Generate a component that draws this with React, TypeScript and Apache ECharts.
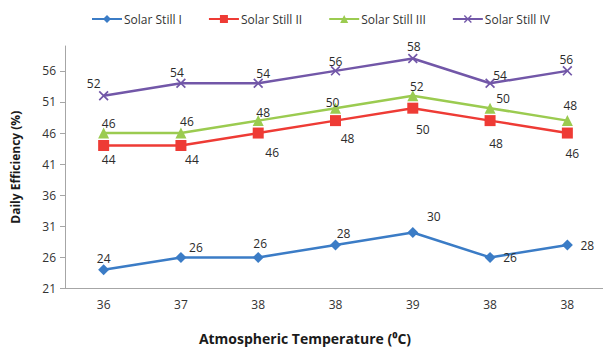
import React, { useEffect, useRef } from "react";
import * as echarts from "echarts";

// Atmospheric temperature for each observation (°C)
const temperatures = ["36", "37", "38", "38", "39", "38", "38"];

// Daily efficiency (%) of each solar still
const stillI = [24, 26, 26, 28, 30, 26, 28];
const stillII = [44, 44, 46, 48, 50, 48, 46];
const stillIII = [46, 46, 48, 50, 52, 50, 48];
const stillIV = [52, 54, 54, 56, 58, 54, 56];

const seriesNames = ["Solar Still I", "Solar Still II", "Solar Still III", "Solar Still IV"];

// Label placement (pixel offsets from each marker), kept apart from the data
const offsetsI = [[0, -11], [15, -10], [2, -14], [8, -11], [21, -16], [20, 0], [20, 1]];
const offsetsII = [[5, 14], [11, 14], [14, 19], [12, 18], [10, 21], [6, 23], [5, 20]];
const offsetsIII = [[5, -10], [6, -12], [5, -8], [-3, -6], [4, -9], [13, -10], [3, -15]];
const offsetsIV = [[-10, -12], [-4, -11], [5, -10], [0, -9], [1, -12], [10, -8], [-1, -11]];

const FONT = "'Open Sans', sans-serif";
const crossSymbol =
  "path://M0,1.2 L1.2,0 L10,8.8 L8.8,10 Z M8.8,0 L10,1.2 L1.2,10 L0,8.8 Z";

function buildSeries(
  name: string,
  values: number[],
  offsets: number[][],
  color: string,
  symbol: string,
  symbolSize: number
) {
  return {
    name,
    type: "line",
    data: values.map((v, i) => ({
      value: v,
      label: { offset: offsets[i] },
    })),
    symbol,
    symbolSize,
    showAllSymbol: true,
    lineStyle: { color, width: 2.5 },
    itemStyle: { color },
    label: {
      show: true,
      position: "inside",
      color: "#2b2b2b",
      fontFamily: FONT,
      fontSize: 12,
    },
    z: 3,
  };
}

export default function App() {
  const ref = useRef<HTMLDivElement>(null);

  useEffect(() => {
    if (!ref.current) return;
    const chart = echarts.init(ref.current, null, { renderer: "svg" });
    chart.setOption({
      animation: false,
      backgroundColor: "#ffffff",
      textStyle: { fontFamily: FONT },
      legend: {
        data: seriesNames,
        top: 8,
        left: 86,
        itemWidth: 30,
        itemHeight: 10,
        itemGap: 26,
        textStyle: { color: "#333333", fontSize: 12, fontFamily: FONT, padding: [0, 0, 0, -3] },
      },
      grid: { left: 65, top: 46, width: 541, height: 242.5, containLabel: false },
      xAxis: {
        type: "category",
        data: temperatures,
        boundaryGap: true,
        axisLine: { lineStyle: { color: "#a6a6a6", width: 1 } },
        axisTick: { show: false },
        axisLabel: { color: "#333333", fontSize: 12, fontFamily: FONT, margin: 10 },
        splitLine: { show: false },
      },
      yAxis: {
        type: "value",
        min: 21,
        max: 60,
        interval: 5,
        name: "Daily Efficiency (%)",
        nameLocation: "middle",
        nameRotate: 90,
        nameGap: 44,
        nameTextStyle: { color: "#1a1a1a", fontSize: 12, fontWeight: "bold", fontFamily: FONT },
        axisLine: { show: true, lineStyle: { color: "#a6a6a6", width: 1 } },
        axisTick: { show: true, length: 5, lineStyle: { color: "#a6a6a6" } },
        axisLabel: { color: "#333333", fontSize: 12, fontFamily: FONT, margin: 9, showMaxLabel: false },
        splitLine: { show: false },
      },
      graphic: [
        {
          type: "text",
          x: 305,
          y: 338,
          style: {
            text: "Atmospheric Temperature (⁰C)",
            fill: "#1a1a1a",
            font: `bold 14px ${FONT}`,
            textAlign: "center",
            textVerticalAlign: "middle",
          },
        },
      ],
      series: [
        buildSeries(seriesNames[0], stillI, offsetsI, "#3b7cc6", "diamond", 11),
        buildSeries(seriesNames[1], stillII, offsetsII, "#ee3b35", "rect", 11),
        buildSeries(seriesNames[2], stillIII, offsetsIII, "#9bcb50", "triangle", 11),
        buildSeries(seriesNames[3], stillIV, offsetsIV, "#7257a8", crossSymbol, 10),
      ],
    });
    return () => chart.dispose();
  }, []);

  return (
    <div
      ref={ref}
      style={{ position: "fixed", left: 0, top: 0, width: 606, height: 350 }}
    />
  );
}
